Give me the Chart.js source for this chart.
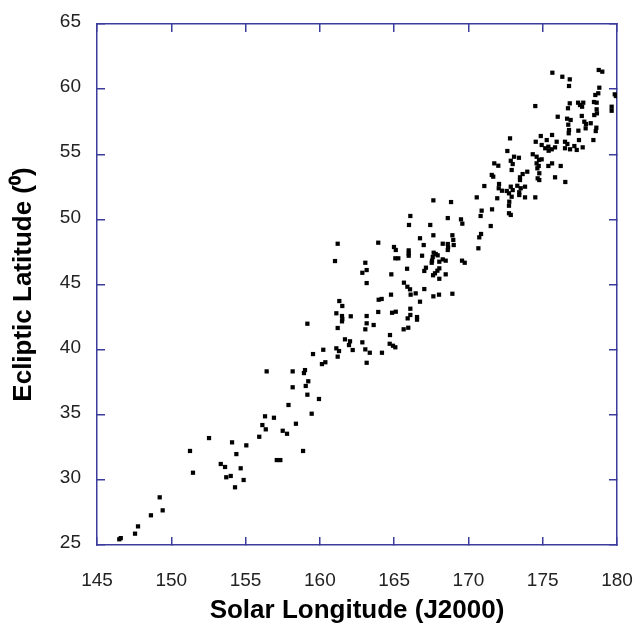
<!DOCTYPE html>
<html>
<head>
<meta charset="utf-8">
<script src="https://cdn.jsdelivr.net/npm/chart.js@4.4.1/dist/chart.umd.min.js"></script>
<style>
  html, body { margin: 0; padding: 0; background: #ffffff; }
  #wrap { width: 636px; height: 627px; }
</style>
</head>
<body>
<div id="wrap"><canvas id="c" width="636" height="627"></canvas></div>
<script>
// ---- data ----
const solarLongitude = [
  146.50,146.60,147.56,147.76,148.63,149.22,149.42,151.26,151.46,152.54,
  153.33,153.62,153.70,154.00,154.09,154.38,154.29,154.67,154.87,155.05,
  155.92,156.13,156.31,156.36,156.91,157.10,157.34,157.50,157.79,157.89,
  156.42,158.17,159.00,158.93,158.17,159.05,159.22,159.16,159.16,161.31,
  161.51,161.11,161.49,161.51,161.49,162.08,163.15,163.93,161.20,163.15,
  163.62,163.06,161.69,162.03,161.96,162.21,162.86,163.06,163.36,161.11,
  161.29,160.23,159.54,161.20,160.37,160.14,163.15,159.94,159.45,158.39,
  158.87,167.64,168.83,170.56,166.09,166.00,168.61,169.50,169.59,167.43,
  167.64,168.92,168.98,170.67,166.74,161.20,163.93,164.99,165.11,165.98,
  165.98,165.98,166.99,168.27,168.61,168.63,168.61,169.01,166.88,167.66,
  167.80,167.60,167.55,167.53,167.93,165.08,165.28,161.02,163.06,168.04,
  168.27,168.47,169.57,169.75,162.86,163.15,165.87,167.14,167.03,168.04,
  167.91,164.81,167.75,167.62,168.04,168.47,163.15,165.66,165.89,166.07,
  167.03,164.16,163.96,164.79,166.11,166.45,166.74,167.64,168.02,168.92,
  164.86,165.11,166.09,165.91,166.09,166.54,166.54,165.64,165.95,164.72,
  164.70,164.92,165.08,164.18,175.65,176.32,176.82,176.77,178.77,179.01,
  178.81,178.74,178.54,178.63,179.85,179.93,179.64,179.64,174.50,176.82,
  176.70,177.38,177.51,177.73,177.65,178.45,178.47,178.63,176.01,176.64,
  176.88,176.72,177.63,177.80,177.91,178.65,178.23,178.61,176.77,176.75,
  177.40,177.89,178.57,178.41,174.87,175.27,175.63,172.80,174.53,174.93,
  175.38,175.61,175.83,175.17,175.40,175.94,176.50,176.66,176.50,176.84,
  177.13,177.29,177.69,177.44,172.62,173.07,173.40,172.85,172.98,174.33,
  174.59,174.75,174.93,174.59,174.73,174.64,175.63,175.38,176.21,171.74,
  172.01,172.91,173.96,173.65,173.47,173.47,171.57,171.67,171.07,172.06,
  172.04,172.26,172.85,172.98,172.58,172.73,174.77,174.66,174.77,175.83,
  176.52,173.29,173.52,173.81,173.42,173.42,173.81,174.50,172.91,172.75,
  171.94,171.59,172.73,172.73,172.85,170.89,170.82,171.50,170.85,170.73
];
const eclipticLatitude = [
  25.44,25.53,25.87,26.43,27.28,28.66,27.66,32.22,30.55,33.21,
  31.22,30.99,30.20,30.30,32.88,31.98,29.43,30.89,29.99,32.65,
  33.31,34.21,34.88,33.88,34.77,31.52,31.52,33.77,33.54,35.75,
  38.33,38.33,38.43,38.20,37.11,37.21,37.57,36.54,41.99,43.73,
  43.35,42.79,42.58,42.35,42.17,42.56,42.58,42.89,41.66,42.02,
  41.89,41.56,40.79,40.64,40.35,39.97,40.56,40.02,39.76,40.10,
  39.89,39.99,39.66,39.46,39.03,38.89,38.99,36.21,35.08,34.31,
  32.22,51.46,51.33,51.69,50.26,49.57,50.10,50.00,49.67,49.57,
  48.78,48.78,48.42,47.78,48.55,48.13,48.21,47.88,47.65,47.62,
  47.39,47.21,48.03,48.13,48.11,47.86,47.65,48.03,47.21,47.44,
  47.34,47.11,46.83,46.67,47.24,47.01,47.01,46.80,46.67,46.75,
  46.93,46.83,46.83,46.67,45.90,46.11,46.21,46.29,46.04,46.24,
  46.06,45.78,45.86,45.71,45.44,45.78,45.11,45.14,44.83,44.63,
  44.65,43.89,43.83,44.22,44.22,44.32,43.68,44.09,44.22,44.29,
  42.83,42.91,43.14,42.40,42.66,42.50,42.30,41.56,41.68,41.12,
  40.45,40.30,40.18,39.76,61.26,60.95,60.75,60.24,61.47,61.34,
  60.11,59.68,59.55,58.96,59.60,59.47,58.65,58.34,58.70,58.91,
  58.53,58.96,58.78,58.96,58.65,59.01,58.01,58.45,57.88,57.73,
  57.63,57.27,57.94,57.50,57.32,58.14,57.38,57.04,56.86,56.61,
  56.81,56.99,56.78,56.09,56.40,56.09,56.48,56.22,55.96,55.71,
  55.58,55.38,55.53,55.46,55.27,55.96,55.96,55.79,55.46,55.38,
  55.63,55.33,55.53,56.09,55.25,54.81,54.73,54.50,54.25,55.00,
  54.81,54.56,54.61,54.30,54.10,53.92,54.30,54.10,54.10,54.30,
  54.12,53.79,53.66,53.48,53.23,53.02,53.41,53.28,52.56,52.72,
  52.39,52.20,52.51,52.25,52.18,52.00,53.54,53.15,53.02,53.23,
  52.87,52.58,52.39,52.51,52.08,51.87,51.69,51.69,51.74,51.36,
  51.62,50.77,51.05,50.47,50.34,50.67,50.26,49.49,48.88,48.62
];
const xTickValues = [145, 150, 155, 160, 165, 170, 175, 180];
const yTickValues = [25, 30, 35, 40, 45, 50, 55, 60, 65];
const xTitle = 'Solar Longitude (J2000)';
const yTitle = 'Ecliptic Latitude (\u2070)';

// ---- build chart ----
const points = solarLongitude.map((x, i) => ({ x: x, y: eclipticLatitude[i] }));
const FONT = "'Liberation Sans', Arial, Helvetica, sans-serif";
const NAVY = '#3c3c9c';

function fixedTicks(values) {
  return function (scale) {
    scale.ticks = values.map(v => ({ value: v }));
  };
}
function zeroPad(s) {
  s.paddingLeft = 0; s.paddingRight = 0; s.paddingTop = 0; s.paddingBottom = 0;
}
function axisCommon(values) {
  return {
    type: 'linear',
    min: values[0],
    max: values[values.length - 1],
    afterBuildTicks: fixedTicks(values),
    grid: {
      drawOnChartArea: false,
      drawTicks: true,
      tickLength: -8,
      color: NAVY,
      lineWidth: 1.5
    },
    border: { display: true, color: NAVY, width: 1.5 }
  };
}

const xBottom = Object.assign(axisCommon(xTickValues), {
  position: 'bottom',
  ticks: { padding: 32, color: '#222', font: { family: FONT, size: 19 }, maxRotation: 0, autoSkip: false },
  title: { display: true, text: xTitle, color: '#000', font: { family: FONT, size: 26, weight: 'bold' }, padding: { top: 0, bottom: 1 } },
  afterFit: s => { s.height = 82; zeroPad(s); }
});
const xTop = Object.assign(axisCommon(xTickValues), {
  position: 'top',
  ticks: { display: false },
  afterFit: s => { s.height = 24; zeroPad(s); }
});
const yLeft = Object.assign(axisCommon(yTickValues), {
  position: 'left',
  ticks: { padding: 24, color: '#222', font: { family: FONT, size: 19 }, autoSkip: false, labelOffset: -2 },
  title: { display: true, text: yTitle, color: '#000', font: { family: FONT, size: 26, weight: 'bold' }, padding: { top: 8, bottom: 0 } },
  afterFit: s => { s.width = 97; zeroPad(s); }
});
const yRight = Object.assign(axisCommon(yTickValues), {
  position: 'right',
  ticks: { display: false },
  afterFit: s => { s.width = 19; zeroPad(s); }
});

new Chart(document.getElementById('c'), {
  type: 'scatter',
  data: {
    datasets: [{
      data: points,
      xAxisID: 'x',
      yAxisID: 'y',
      pointStyle: 'rect',
      pointRadius: 3,
      pointHoverRadius: 3,
      backgroundColor: '#000',
      borderColor: '#000',
      borderWidth: 0
    }]
  },
  options: {
    responsive: false,
    animation: false,
    devicePixelRatio: 1,
    layout: { padding: 0 },
    plugins: { legend: { display: false }, tooltip: { enabled: false } },
    scales: { x: xBottom, x2: xTop, y: yLeft, y2: yRight }
  }
});
</script>
</body>
</html>
